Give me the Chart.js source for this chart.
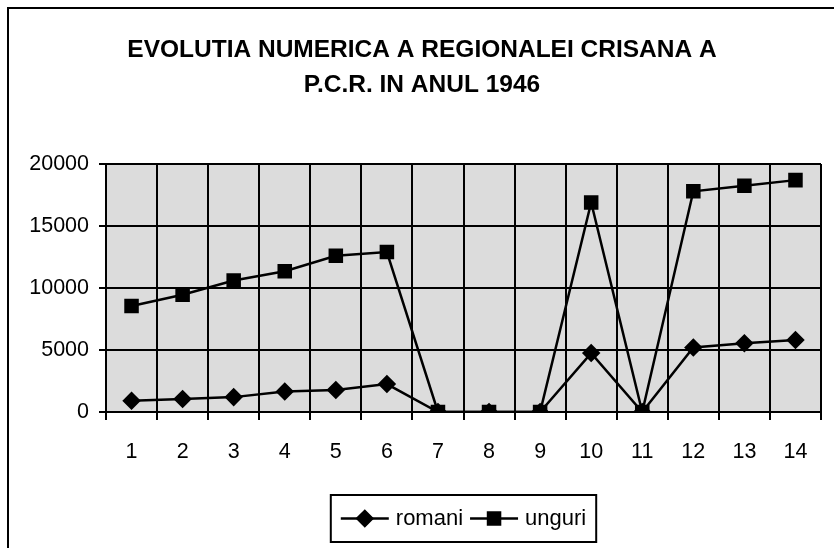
<!DOCTYPE html>
<html>
<head>
<meta charset="utf-8">
<script src="https://cdn.jsdelivr.net/npm/chart.js@4/dist/chart.umd.min.js"></script>
<style>
  body { margin: 0; background: #fff; }
  canvas { display: block; }
</style>
</head>
<body>
<canvas id="lineChart" width="834" height="548"></canvas>
<script>
// data
const categories = ["1", "2", "3", "4", "5", "6", "7", "8", "9", "10", "11", "12", "13", "14"];
const romani = [900, 1050, 1200, 1650, 1780, 2250, 0, 0, 0, 4750, 0, 5200, 5550, 5800];
const unguri = [8550, 9450, 10600, 11350, 12600, 12900, 0, 0, 0, 16900, 0, 17800, 18250, 18700];
const titleLines = ["EVOLUTIA NUMERICA A REGIONALEI CRISANA A", "P.C.R. IN ANUL 1946"];
const yTicks = [0, 5000, 10000, 15000, 20000];

const FONT = "'Liberation Sans', Arial, sans-serif";

// gray plot background, page border, title
const decor = {
  id: "decor",
  beforeDraw(chart) {
    const { ctx, chartArea } = chart;
    ctx.save();
    ctx.fillStyle = "#dcdcdc";
    ctx.fillRect(chartArea.left, chartArea.top, chartArea.right - chartArea.left, chartArea.bottom - chartArea.top);
    // outer frame (top + left only visible)
    ctx.strokeStyle = "#000";
    ctx.lineWidth = 2;
    ctx.beginPath();
    ctx.moveTo(8, 548);
    ctx.lineTo(8, 8);
    ctx.lineTo(834, 8);
    ctx.stroke();
    // title
    ctx.fillStyle = "#000";
    ctx.font = "bold 24.5px " + FONT;
    ctx.textAlign = "center";
    ctx.textBaseline = "alphabetic";
    ctx.fillText(titleLines[0], 422, 57);
    ctx.fillText(titleLines[1], 422, 92);
    ctx.restore();
  },
};

// legend with line + marker, boxed
const boxLegend = {
  id: "boxLegend",
  afterDraw(chart) {
    const { ctx, chartArea } = chart;
    const sets = chart.data.datasets;
    ctx.save();
    ctx.font = "22px " + FONT;
    const lineLen = 48;
    const pad = 10;
    let total = pad;
    sets.forEach((ds, i) => {
      total += lineLen + 7 + ctx.measureText(ds.label).width;
      if (i < sets.length - 1) total += 7;
    });
    total += pad;
    const top = 495, bottom = 542;
    const cy = (top + bottom) / 2;
    let x = (chartArea.left + chartArea.right) / 2 - total / 2;
    ctx.strokeStyle = "#000";
    ctx.lineWidth = 2;
    ctx.strokeRect(x, top, total, bottom - top);
    x += pad;
    sets.forEach((ds) => {
      ctx.beginPath();
      ctx.lineWidth = 2.5;
      ctx.moveTo(x, cy);
      ctx.lineTo(x + lineLen, cy);
      ctx.stroke();
      Chart.helpers.drawPoint(ctx, {
        pointStyle: ds.pointStyle,
        radius: ds.pointRadius,
        rotation: 0,
        borderWidth: 1,
      }, x + lineLen / 2, cy);
      ctx.fillStyle = "#000";
      ctx.fill();
      x += lineLen + 7;
      ctx.fillStyle = "#000";
      ctx.textAlign = "left";
      ctx.textBaseline = "middle";
      ctx.fillText(ds.label, x, cy);
      x += ctx.measureText(ds.label).width + 7;
    });
    ctx.restore();
  },
};

const ctx = document.getElementById("lineChart").getContext("2d");
const lineChart = new Chart(ctx, {
  type: "line",
  data: {
    labels: categories,
    datasets: [
      {
        label: "romani",
        data: romani,
        borderColor: "#000",
        backgroundColor: "#000",
        borderWidth: 2.5,
        pointStyle: "rectRot",
        pointRadius: 7.5,
        pointBackgroundColor: "#000",
        pointBorderColor: "#000",
        tension: 0,
        order: 1,
      },
      {
        label: "unguri",
        data: unguri,
        borderColor: "#000",
        backgroundColor: "#000",
        borderWidth: 2.5,
        pointStyle: "rect",
        pointRadius: 8.5,
        pointBackgroundColor: "#000",
        pointBorderColor: "#000",
        tension: 0,
        order: 0,
      },
    ],
  },
  options: {
    responsive: false,
    animation: false,
    layout: {
      padding: { top: 164, left: 0, right: 13, bottom: 80 },
    },
    plugins: {
      legend: { display: false },
      title: { display: false },
      tooltip: { enabled: false },
    },
    scales: {
      x: {
        offset: true,
        grid: {
          offset: true,
          color: "#000",
          lineWidth: 2,
          tickLength: 8,
          tickColor: "#000",
        },
        border: { color: "#000", width: 2 },
        ticks: {
          color: "#000",
          padding: 19,
          font: { family: FONT, size: 21.5 },
          maxRotation: 0,
        },
        afterFit(scale) {
          scale.height = 56;
        },
      },
      y: {
        min: 0,
        max: 20000,
        afterBuildTicks(scale) {
          scale.ticks = yTicks.map((v) => ({ value: v }));
        },
        grid: {
          color: "#000",
          lineWidth: 2,
          tickLength: 7,
          tickColor: "#000",
        },
        border: { color: "#000", width: 2 },
        ticks: {
          color: "#000",
          padding: 10,
          font: { family: FONT, size: 21.5 },
          callback: (v) => String(v),
        },
        afterFit(scale) {
          scale.width = 106;
        },
      },
    },
  },
  plugins: [decor, boxLegend],
});
</script>
</body>
</html>
